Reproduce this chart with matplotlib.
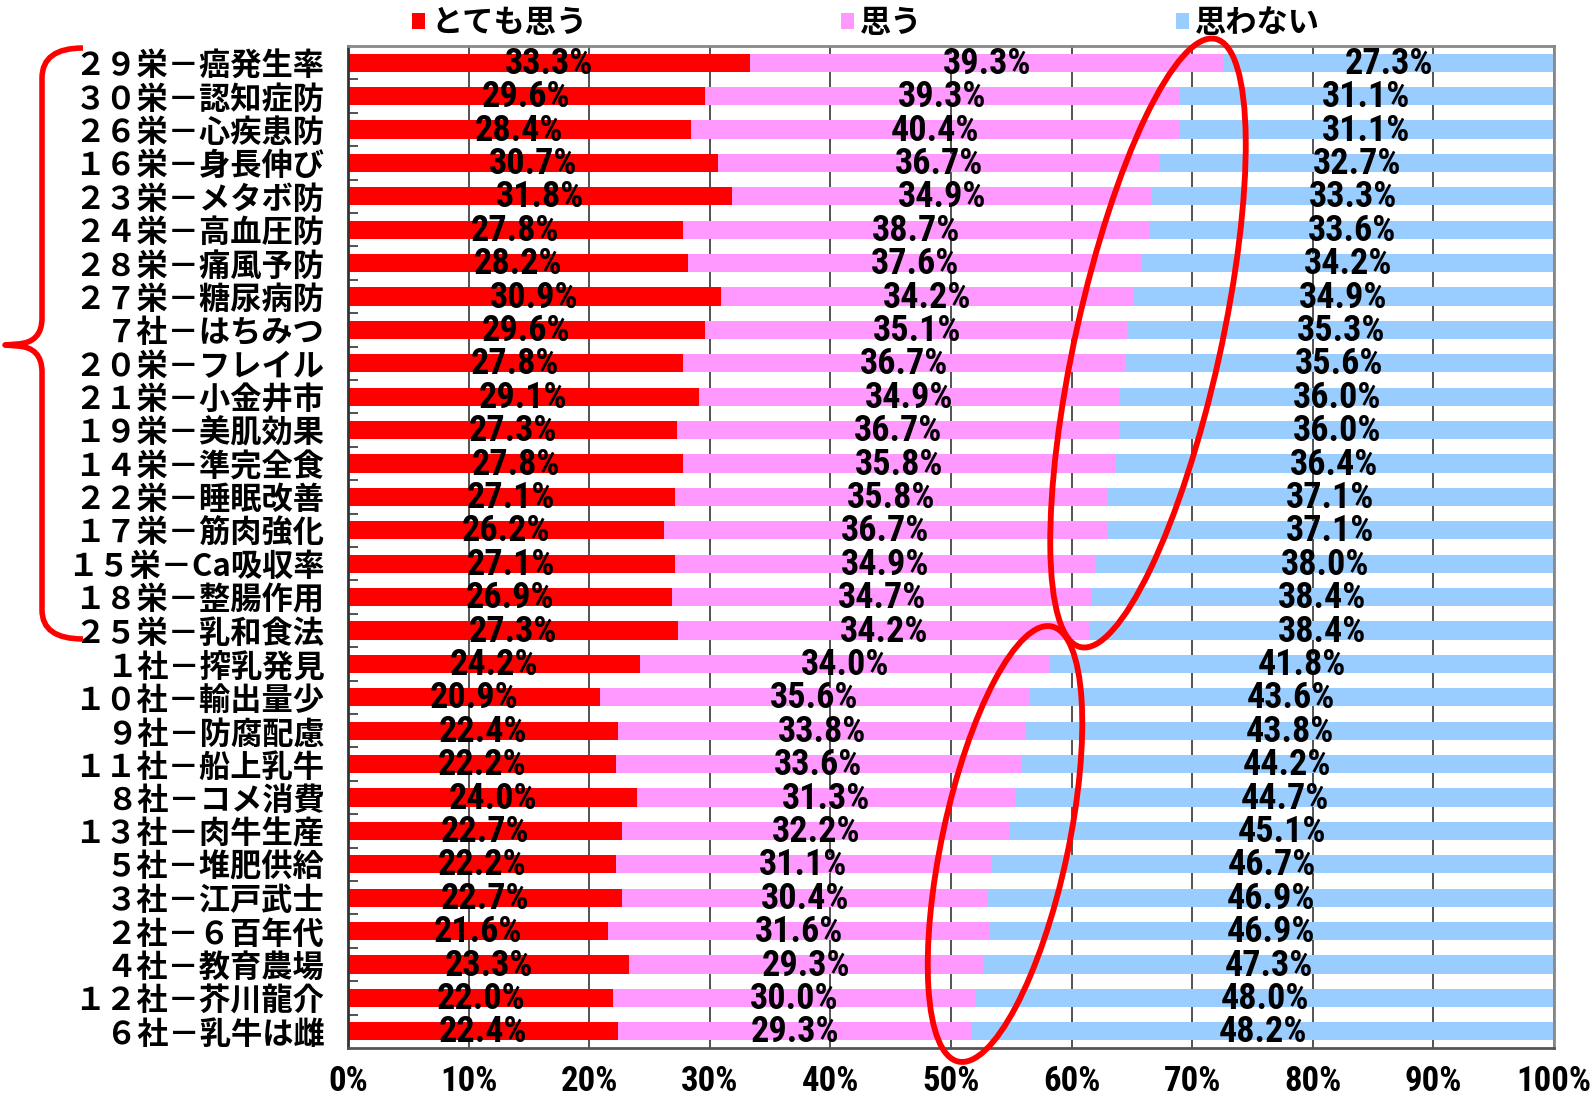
import os
import numpy as np
import matplotlib
matplotlib.use("Agg")
import matplotlib.pyplot as plt
from matplotlib import font_manager
from matplotlib.patches import Ellipse, PathPatch
from matplotlib.path import Path
from matplotlib.ticker import FixedLocator

# Data (top to bottom)
labels = [
    "２９栄－癌発生率", "３０栄－認知症防", "２６栄－心疾患防", "１６栄－身長伸び",
    "２３栄－メタボ防", "２４栄－高血圧防", "２８栄－痛風予防", "２７栄－糖尿病防",
    "７社－はちみつ", "２０栄－フレイル", "２１栄－小金井市", "１９栄－美肌効果",
    "１４栄－準完全食", "２２栄－睡眠改善", "１７栄－筋肉強化", "１５栄－Ca吸収率",
    "１８栄－整腸作用", "２５栄－乳和食法", "１社－搾乳発見", "１０社－輸出量少",
    "９社－防腐配慮", "１１社－船上乳牛", "８社－コメ消費", "１３社－肉牛生産",
    "５社－堆肥供給", "３社－江戸武士", "２社－６百年代", "４社－教育農場",
    "１２社－芥川龍介", "６社－乳牛は雌",
]
very = [33.3, 29.6, 28.4, 30.7, 31.8, 27.8, 28.2, 30.9, 29.6, 27.8,
        29.1, 27.3, 27.8, 27.1, 26.2, 27.1, 26.9, 27.3, 24.2, 20.9,
        22.4, 22.2, 24.0, 22.7, 22.2, 22.7, 21.6, 23.3, 22.0, 22.4]
agree = [39.3, 39.3, 40.4, 36.7, 34.9, 38.7, 37.6, 34.2, 35.1, 36.7,
         34.9, 36.7, 35.8, 35.8, 36.7, 34.9, 34.7, 34.2, 34.0, 35.6,
         33.8, 33.6, 31.3, 32.2, 31.1, 30.4, 31.6, 29.3, 30.0, 29.3]
disagree = [27.3, 31.1, 31.1, 32.7, 33.3, 33.6, 34.2, 34.9, 35.3, 35.6,
            36.0, 36.0, 36.4, 37.1, 37.1, 38.0, 38.4, 38.4, 41.8, 43.6,
            43.8, 44.2, 44.7, 45.1, 46.7, 46.9, 46.9, 47.3, 48.0, 48.2]
series_names = ["とても思う", "思う", "思わない"]
series_colors = ["#FF0000", "#FF99FF", "#99CCFF"]

JP = ["Noto Sans CJK JP", "DejaVu Sans"]


def narrow_bold_font(size):
    """Find a condensed bold font for the numbers; fall back to DejaVu."""
    prefs = ["liberationsansnarrow-bold", "notosans-condensedbold",
             "robotocondensed-bold", "dejavusanscondensed-bold",
             "opensans-condensedbold", "notosans-semicondensedbold"]
    files = {os.path.basename(f.fname).lower().replace(" ", "").rsplit(".", 1)[0]: f.fname
             for f in font_manager.fontManager.ttflist}
    for p in prefs:
        if p in files:
            return font_manager.FontProperties(fname=files[p], size=size)
    for key, path in files.items():
        if ("narrow" in key or "condensed" in key) and key.endswith("bold") \
                and "semi" not in key and "extra" not in key:
            return font_manager.FontProperties(fname=path, size=size)
    return font_manager.FontProperties(family="DejaVu Sans", weight="bold",
                                       size=size * 0.75)


num_font = narrow_bold_font(26)
tick_font = narrow_bold_font(25)

W, H = 1595, 1097
fig = plt.figure(figsize=(W / 100, H / 100), dpi=100)
ax = fig.add_axes([348 / W, 1 - 1048 / H, (1554 - 348) / W, (1048 - 46) / H])

y = np.arange(len(labels))
raw = np.array([very, agree, disagree])
pct = raw / raw.sum(axis=0) * 100  # 100% stacked
left = np.zeros(len(labels))
handles = []
for vals, rawv, name, col in zip(pct, raw, series_names, series_colors):
    bars = ax.barh(y, vals, left=left, height=0.55, color=col, label=name, zorder=2)
    handles.append(bars)
    for yi, l, v, r in zip(y, left, vals, rawv):
        ax.text(l + v / 2, yi + 0.03, f"{r:.1f}%", ha="center", va="center",
                fontproperties=num_font, color="black", zorder=4)
    left = left + vals

ax.set_xlim(0, 100)
ax.set_ylim(len(labels) - 0.5, -0.5)
ax.set_xticks(np.arange(0, 101, 10))
ax.set_xticklabels([f"{v}%" for v in range(0, 101, 10)], fontproperties=tick_font)
ax.set_yticks(y)
ax.set_yticklabels(labels, fontsize=22.5, fontweight="bold", family=JP)
ax.tick_params(axis="y", length=0, pad=17)
ax.tick_params(axis="x", length=0, pad=12)
ax.yaxis.set_minor_locator(FixedLocator(np.arange(0.5, len(labels) - 1, 1.0)))
ax.tick_params(axis="y", which="minor", direction="in", length=7, width=1.2, color="#333333")
ax.xaxis.grid(True, color="#444444", linewidth=1.3, zorder=0)
ax.set_axisbelow(True)
for s in ax.spines.values():
    s.set_color("#888888")
    s.set_linewidth(2)
ax.spines["left"].set_color("#333333")
ax.spines["bottom"].set_color("#555555")

fig.legend(handles=handles, labels=series_names, loc="center left",
           bbox_to_anchor=(412 / W, 1 - 23 / H), ncol=3, frameon=False,
           prop={"family": JP, "weight": "bold", "size": 22.5},
           handlelength=0.42, handleheight=0.42, handletextpad=0.2,
           columnspacing=8.1, borderpad=0, borderaxespad=0)

# overlay in pixel coordinates for the annotations
ov = fig.add_axes([0, 0, 1, 1])
ov.set_xlim(0, W)
ov.set_ylim(H, 0)
ov.axis("off")
ov.patch.set_alpha(0)

ov.add_patch(Ellipse((1148, 343), 145, 623, angle=12.5, fill=False,
                     edgecolor="#FF0000", linewidth=4.2, zorder=5))
ov.add_patch(Ellipse((1005, 844), 126, 445, angle=12.1, fill=False,
                     edgecolor="#FF0000", linewidth=4.2, zorder=5))

verts = [(83, 48), (42, 48), (42, 78),
         (42, 318), (42, 343), (17, 344), (5, 345),
         (17, 346), (42, 347), (42, 372),
         (42, 610), (42, 639), (83, 639)]
codes = [Path.MOVETO, Path.CURVE3, Path.CURVE3,
         Path.LINETO, Path.CURVE3, Path.CURVE3, Path.LINETO,
         Path.LINETO, Path.CURVE3, Path.CURVE3,
         Path.LINETO, Path.CURVE3, Path.CURVE3]
ov.add_patch(PathPatch(Path(verts, codes), fill=False, edgecolor="#FF0000",
                       linewidth=4, capstyle="butt", joinstyle="round"))

fig.savefig("out.png", dpi=100, facecolor="white")
